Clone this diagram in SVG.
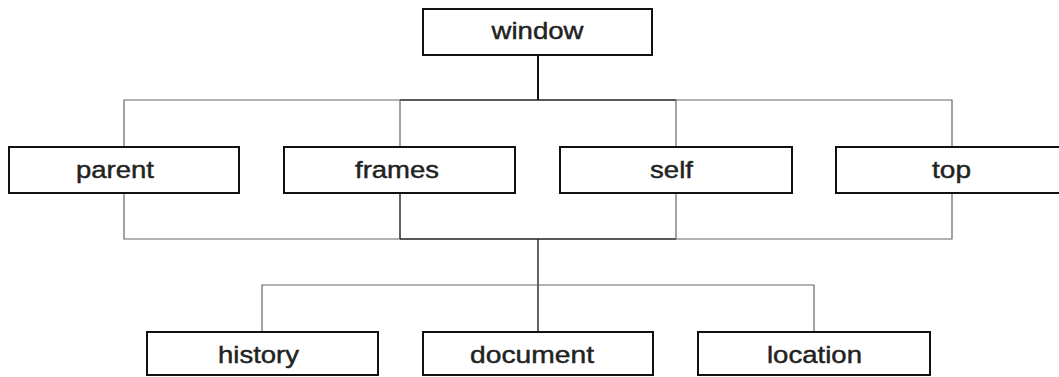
<svg xmlns="http://www.w3.org/2000/svg" width="1059" height="377" viewBox="0 0 1059 377">
  <style>
    .box { fill: #fff; stroke: #111; stroke-width: 2; }
    .lbl { font-family: "Liberation Sans", Arial, sans-serif; font-size: 24.5px; fill: #222; stroke: #222; stroke-width: 0.45; text-anchor: middle; }
    .wire { fill: none; stroke: #666; stroke-width: 1.2; }
    .wire-dark { fill: none; stroke: #222; stroke-width: 1.4; }
    .trunk { fill: none; stroke: #111; stroke-width: 2; }
  </style>
  <rect width="1059" height="377" fill="#fff"/>

  <!-- connectors -->
  <g id="connectors">
    <!-- window down to the upper bus -->
    <line class="trunk" x1="538" y1="55" x2="538" y2="100"/>
    <!-- upper bus and drops into the second row -->
    <polyline class="wire" points="124,147 124,100 400,100"/>
    <polyline class="wire-dark" points="400,100 676,100"/>
    <polyline class="wire" points="676,100 952,100 952,147"/>
    <line class="wire" x1="400" y1="100" x2="400" y2="147"/>
    <line class="wire" x1="676" y1="100" x2="676" y2="147"/>
    <!-- lower bus collecting the second row -->
    <polyline class="wire" points="124,193 124,239 400,239"/>
    <polyline class="wire-dark" points="400,239 676,239"/>
    <polyline class="wire" points="676,239 952,239 952,193"/>
    <line class="wire-dark" x1="400" y1="193" x2="400" y2="239"/>
    <line class="wire" x1="676" y1="193" x2="676" y2="239"/>
    <!-- down to the third row -->
    <line class="wire-dark" x1="538" y1="239" x2="538" y2="332"/>
    <polyline class="wire" points="262,332 262,285 814,285 814,332"/>
  </g>

  <g id="node-window">
    <rect class="box" x="423" y="9" width="229" height="46"/>
    <text class="lbl" x="537.5" y="38.5" textLength="92" lengthAdjust="spacingAndGlyphs">window</text>
  </g>

  <g id="node-parent">
    <rect class="box" x="9" y="147" width="230" height="46"/>
    <text class="lbl" x="115" y="177.5" textLength="78" lengthAdjust="spacingAndGlyphs">parent</text>
  </g>
  <g id="node-frames">
    <rect class="box" x="284" y="147" width="231" height="46"/>
    <text class="lbl" x="397" y="177.5" textLength="84" lengthAdjust="spacingAndGlyphs">frames</text>
  </g>
  <g id="node-self">
    <rect class="box" x="560" y="147" width="232" height="46"/>
    <text class="lbl" x="671.5" y="177.5" textLength="43" lengthAdjust="spacingAndGlyphs">self</text>
  </g>
  <g id="node-top">
    <rect class="box" x="836" y="147" width="232" height="46"/>
    <text class="lbl" x="951.5" y="177.5" textLength="39" lengthAdjust="spacingAndGlyphs">top</text>
  </g>

  <g id="node-history">
    <rect class="box" x="147" y="332" width="231" height="43"/>
    <text class="lbl" x="258.5" y="362.5" textLength="81" lengthAdjust="spacingAndGlyphs">history</text>
  </g>
  <g id="node-document">
    <rect class="box" x="423" y="332" width="230" height="43"/>
    <text class="lbl" x="532" y="362.5" textLength="124" lengthAdjust="spacingAndGlyphs">document</text>
  </g>
  <g id="node-location">
    <rect class="box" x="698" y="332" width="232" height="43"/>
    <text class="lbl" x="814.5" y="362.5" textLength="95" lengthAdjust="spacingAndGlyphs">location</text>
  </g>
</svg>
